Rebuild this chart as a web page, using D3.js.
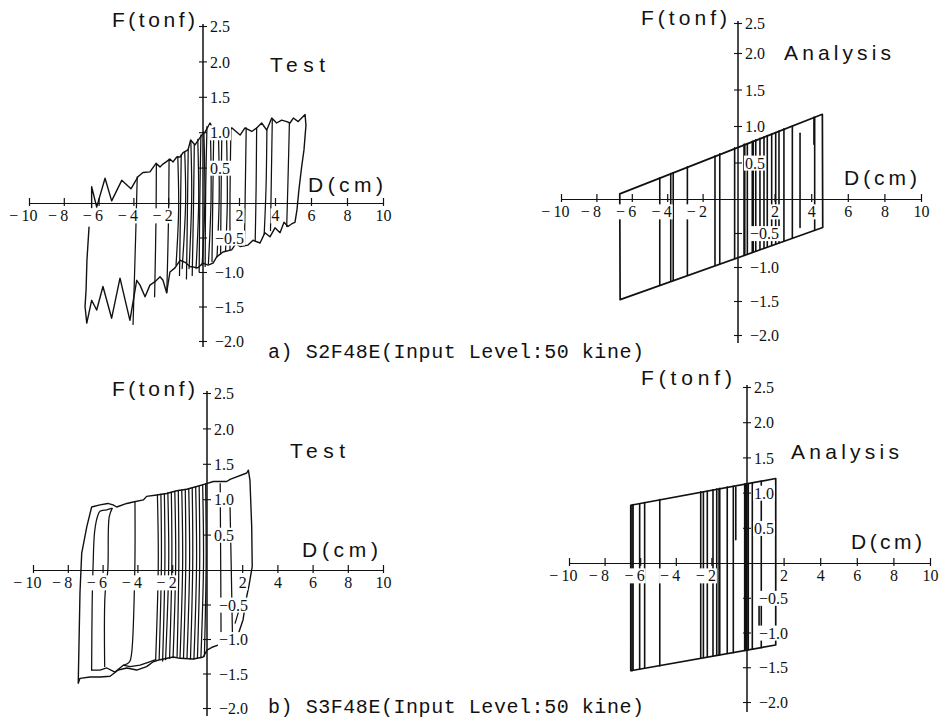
<!DOCTYPE html>
<html><head><meta charset="utf-8">
<script src="https://cdn.jsdelivr.net/npm/d3@7"></script>
<style>body{margin:0;background:#fff}svg{display:block}</style>
</head><body>
<svg id="c" width="948" height="721"></svg>
<script>
// ---------------- data ----------------
const xTickValues = [-10,-8,-6,-4,-2,2,4,6,8,10];
const yTickValues = [2.5,2.0,1.5,1.0,0.5,-0.5,-1.0,-1.5,-2.0];
const captions = ["a) S2F48E(Input Level:50 kine)", "b) S3F48E(Input Level:50 kine)"];
const panelNames = ["Test","Analysis","Test","Analysis"];
const yTitle = "F(tonf)";
const xTitle = "D(cm)";

// a) S2F48E  Test : envelope trace [D (cm), F (tonf)]
const testA_outline = [[-6.40,-0.07],[-6.40,0.23],[-6.11,-0.06],[-5.63,0.35],[-5.25,0.03],[-4.67,0.32],[-4.14,0.20],[-3.74,0.37],[-3.45,0.43],[-3.05,0.44],[-2.70,0.56],[-2.47,0.51],[-2.30,0.55],[-1.90,0.62],[-1.72,0.58],[-1.51,0.65],[-1.32,0.65],[-1.15,0.71],[-0.86,0.75],[-0.71,0.89],[-0.46,0.82],[-0.07,0.96],[0.11,1.00],[0.39,1.13],[0.62,1.02],[0.94,1.06],[1.25,1.00],[1.61,1.06],[2.06,0.96],[2.33,1.06],[2.71,1.01],[2.98,1.06],[3.26,1.13],[3.54,1.03],[3.82,1.20],[4.09,1.13],[4.37,1.17],[4.65,1.15],[4.83,1.13],[5.02,1.20],[5.29,1.15],[5.67,1.25],[5.72,1.10],[5.61,0.75],[5.48,0.51],[5.33,0.19],[5.22,-0.10],[5.11,-0.28],[4.94,-0.30],[4.72,-0.34],[4.50,-0.28],[4.28,-0.43],[4.00,-0.36],[3.72,-0.49],[3.44,-0.43],[3.17,-0.58],[2.78,-0.54],[2.50,-0.61],[2.06,-0.63],[1.83,-0.59],[1.59,-0.68],[1.11,-0.71],[0.76,-0.78],[0.56,-0.87],[0.28,-0.90],[0.00,-0.87],[-0.29,-0.94],[-0.75,-0.92],[-1.03,-0.86],[-1.32,-0.83],[-1.61,-0.94],[-1.90,-1.00],[-2.09,-1.30],[-2.30,-1.12],[-2.47,-1.07],[-2.76,-1.14],[-3.05,-1.19],[-3.33,-1.36],[-3.62,-1.19],[-3.81,-1.12],[-4.20,-1.70],[-4.77,-1.09],[-5.25,-1.67],[-5.75,-1.21],[-6.11,-1.55],[-6.40,-1.41],[-6.68,-1.74],[-6.78,-1.50],[-6.72,-1.26],[-6.67,-0.83],[-6.55,-0.35]];
// a) Test : loading / unloading branches
const testA_branches = [
 [[-3.78,0.37],[-3.85,-0.30],[-4.02,-1.76]],
 [[-2.68,0.56],[-2.70,-0.20],[-2.78,-1.36]],
 [[-1.95,0.62],[-1.98,-0.20],[-2.08,-1.30]],
 [[-1.45,0.66],[-1.40,-0.10],[-1.55,-0.90]],
 [[-1.25,0.68],[-1.30,-0.20],[-1.35,-1.05]],
 [[-1.05,0.72],[-1.00,0.00],[-1.20,-0.95]],
 [[-0.85,0.76],[-0.90,-0.20],[-0.95,-1.10]],
 [[-0.70,0.88],[-0.65,0.10],[-0.80,-0.95]],
 [[-0.50,0.82],[-0.55,-0.10],[-0.62,-1.05]],
 [[-0.30,0.90],[-0.25,0.00],[-0.40,-0.95]],
 [[-0.12,0.96],[-0.18,0.10],[-0.22,-1.00]],
 [[0.05,1.00],[0.10,0.00],[-0.05,-0.90]],
 [[0.22,1.08],[0.15,0.20],[0.12,-0.92]],
 [[0.40,1.12],[0.45,0.10],[0.30,-0.88]],
 [[0.60,1.08],[0.55,0.20],[0.50,-0.85]],
 [[0.85,1.06],[0.90,0.10],[0.78,-0.78]],
 [[1.05,1.06],[1.00,0.00],[0.98,-0.74]],
 [[1.30,1.06],[1.35,0.00],[1.25,-0.70]],
 [[1.55,1.06],[1.50,0.10],[1.50,-0.68]],
 [[2.40,1.06],[2.35,0.20],[2.30,-0.62]],
 [[2.98,1.06],[2.95,0.20],[2.90,-0.55]],
 [[3.55,1.03],[3.50,0.20],[3.40,-0.45]],
 [[3.85,1.18],[3.80,0.40],[3.75,-0.40]],
 [[4.80,1.13],[4.72,0.30],[4.65,-0.34]]
];
// a) Analysis : outline and reversal lines [D, Ftop, Fbottom]
const anaA_outline = [[-6.68,0.07],[4.61,1.16],[4.63,-0.42],[-6.66,-1.48],[-6.68,0.07]];
const anaA_verticals = [[-4.42,0.29,-1.27],[-3.80,0.35,-1.21],[-3.66,0.36,-1.20],[-2.86,0.44,-1.12],[-1.30,0.59,-0.97],[-1.03,0.62,-0.95],[-0.19,0.70,-0.87],[0.33,0.75,-0.82],[0.37,0.75,-0.82],[0.51,0.76,-0.80],[0.78,0.79,-0.78],[0.83,0.79,-0.77],[0.97,0.81,-0.76],[1.20,0.83,-0.74],[1.42,0.85,-0.72],[1.60,0.87,-0.70],[1.84,0.89,-0.68],[2.06,0.91,-0.66],[2.24,0.93,-0.64],[2.51,0.96,-0.62],[2.97,1.00,-0.57],[3.39,0.90,-0.42],[4.19,1.12,-0.46],[4.15,1.12,0.75]];

// b) S3F48E  Test
const testB_outline = [[-7.40,-1.64],[-7.30,-0.33],[-7.20,0.24],[-6.91,0.61],[-6.63,0.89],[-6.15,0.92],[-5.70,0.94],[-5.40,0.92],[-5.19,0.89],[-4.61,0.94],[-4.24,0.96],[-3.66,0.99],[-3.47,1.04],[-2.89,1.06],[-2.32,1.08],[-1.74,1.12],[-1.17,1.14],[-0.59,1.18],[-0.02,1.22],[0.36,1.25],[1.12,1.25],[1.31,1.28],[2.26,1.37],[2.35,1.41],[2.44,1.27],[2.54,0.61],[2.57,0.05],[2.39,-0.22],[2.22,-0.43],[2.05,-0.72],[1.75,-0.95],[1.48,-1.06],[1.02,-1.10],[0.63,-1.09],[0.28,-1.12],[0.00,-1.16],[-0.21,-1.26],[-0.79,-1.29],[-1.55,-1.28],[-1.94,-1.26],[-2.70,-1.30],[-3.09,-1.33],[-3.47,-1.40],[-4.04,-1.45],[-4.61,-1.42],[-5.10,-1.45],[-5.57,-1.54],[-6.15,-1.55],[-6.72,-1.55],[-7.30,-1.57],[-7.40,-1.64]];
const testB_inner = [[-6.63,-1.45],[-6.15,-1.45],[-5.76,-1.42],[-5.29,-1.48],[-4.81,-1.38],[-4.43,-1.40],[-3.85,-1.38],[-3.30,-1.33],[-2.95,-1.30]];
const testB_branches = [
 [[-6.63,-1.45],[-6.60,-0.50],[-6.55,0.03],[-6.45,0.56],[-6.26,0.78],[-6.15,0.83],[-5.76,0.85],[-5.47,0.87]],
 [[-5.45,0.87],[-5.62,0.75],[-5.70,0.00],[-5.86,-0.36],[-5.88,-1.40]],
 [[-4.14,0.96],[-4.15,0.00],[-4.33,-1.20],[-4.45,-1.33],[-4.80,-1.38]],
 [[-2.85,1.06],[-2.80,0.10],[-2.95,-1.30]],
 [[-2.65,1.07],[-2.62,0.10],[-2.75,-1.30]],
 [[-2.45,1.08],[-2.42,0.10],[-2.55,-1.32]],
 [[-2.25,1.09],[-2.20,0.10],[-2.38,-1.30]],
 [[-2.05,1.10],[-2.02,0.10],[-2.15,-1.28]],
 [[-1.85,1.11],[-1.80,0.10],[-1.95,-1.27]],
 [[-1.65,1.12],[-1.62,0.10],[-1.72,-1.26]],
 [[-1.45,1.13],[-1.40,0.10],[-1.55,-1.27]],
 [[-1.25,1.14],[-1.22,0.10],[-1.35,-1.28]],
 [[-1.05,1.15],[-1.00,0.10],[-1.15,-1.28]],
 [[-0.85,1.16],[-0.82,0.10],[-0.95,-1.29]],
 [[-0.65,1.17],[-0.60,0.10],[-0.75,-1.29]],
 [[-0.45,1.18],[-0.42,0.10],[-0.55,-1.28]],
 [[-0.25,1.20],[-0.20,0.10],[-0.35,-1.27]],
 [[-0.08,1.22],[-0.05,0.10],[-0.15,-1.25]],
 [[0.75,1.22],[0.78,0.00],[0.80,-1.05]],
 [[1.31,0.89],[1.38,0.00],[1.45,-1.00]],
 [[1.88,-0.53],[1.60,-0.77]]
];
// b) Analysis
const anaB_outline = [[-6.53,0.82],[1.57,1.20],[1.57,-1.18],[-6.53,-1.55],[-6.53,0.82]];
const anaB_verticals = [[-6.46,0.82,-1.55],[-6.40,0.83,-1.54],[-6.03,0.84,-1.53],[-5.75,0.86,-1.51],[-4.90,0.90,-1.48],[-2.60,1.01,-1.37],[-2.45,1.01,-1.36],[-2.23,1.02,-1.35],[-1.91,1.04,-1.34],[-1.70,1.05,-1.33],[-1.57,1.05,-1.32],[-1.53,1.06,-1.32],[-1.11,1.08,-1.30],[-0.77,1.09,-1.29],[-0.63,1.08,0.33],[-0.13,1.12,-1.26],[-0.07,1.12,-1.26],[-0.02,1.13,-1.25],[0.07,1.13,-1.25],[0.29,1.14,-1.24],[0.66,-0.44,-0.96],[0.78,1.16,-1.22]];

// ---------------- layout ----------------
const panels = [
 {kind:"test", outline:testA_outline, extra:null, branches:testA_branches,
  xr:[29,203,383], yd:[-2,0,2.5], yr:[341,203,26], yTop:24, yBot:347,
  f:[112,195,27], t:[270,325,72], d:[308,383,192]},
 {kind:"ana", outline:anaA_outline, verticals:anaA_verticals,
  xr:[561,738,921], yd:[-2,0,2,2.5], yr:[335,199,53,23], yTop:21, yBot:343,
  f:[641,727,25], t:[784,891,60], d:[844,917,185]},
 {kind:"test", outline:testB_outline, extra:testB_inner, branches:testB_branches,
  xr:[33,207,383], yd:[-2,0,2.5], yr:[708,570,393], yTop:391, yBot:716,
  f:[112,195,396], t:[290,345,458], d:[302,378,557]},
 {kind:"ana", outline:anaB_outline, verticals:anaB_verticals,
  xr:[569,747,930], yd:[-2,0,2.5], yr:[702,563,387], yTop:385, yBot:712,
  f:[641,732,385], t:[791,899,459], d:[851,922,549]}
];

const svg = d3.select("#c");
svg.append("rect").attr("width",948).attr("height",721).attr("fill","#fff");
const INK = "#111";
const serif = "'Liberation Serif','Times New Roman',serif";
const sans = "'Liberation Sans',Arial,Helvetica,sans-serif";
const mono = "'Liberation Mono','Courier New',monospace";

function fmtX(v){ return v < 0 ? "\u2212\u2009" + Math.abs(v) : String(v); }
function fmtY(v){ return (v < 0 ? "\u2212" : "") + Math.abs(v).toFixed(1); }

panels.forEach((p, i) => {
  const x = d3.scaleLinear().domain([-10,0,10]).range(p.xr);
  const y = d3.scaleLinear().domain(p.yd).range(p.yr);
  const g = svg.append("g");
  const x0 = x(0), y0 = y(0);

  // ---- data marks ----
  const dg = g.append("g").attr("fill","none").attr("stroke",INK).attr("stroke-linejoin","round").attr("stroke-linecap","round");
  if (p.kind === "test") {
    const lineT = d3.line().x(d => x(d[0])).y(d => y(d[1]));
    const lineC = d3.line().x(d => x(d[0])).y(d => y(d[1])).curve(d3.curveCatmullRom.alpha(0.5));
    dg.append("path").attr("d", lineT(p.outline)).attr("stroke-width",1.4);
    if (p.extra) dg.append("path").attr("d", lineT(p.extra)).attr("stroke-width",1.3);
    dg.selectAll("path.br").data(p.branches).join("path").attr("class","br")
      .attr("d", d => lineC(d)).attr("stroke-width",1.25);
  } else {
    const lineT = d3.line().x(d => x(d[0])).y(d => y(d[1]));
    dg.append("path").attr("d", lineT(p.outline)).attr("stroke-width",1.7);
    dg.selectAll("line.v").data(p.verticals).join("line").attr("class","v")
      .attr("x1", d => x(d[0])).attr("x2", d => x(d[0]))
      .attr("y1", d => y(d[1])).attr("y2", d => y(d[2]))
      .attr("stroke-width",1.6);
  }

  // ---- x axis ----
  const ax = g.append("g").attr("transform",`translate(0,${y0})`)
    .call(d3.axisBottom(x).tickValues(xTickValues).tickFormat(fmtX).tickSizeOuter(0));
  ax.select(".domain").attr("stroke",INK).attr("stroke-width",1);
  ax.selectAll(".tick line").attr("y1",-5).attr("y2",3).attr("stroke",INK).attr("stroke-width",1.2);
  ax.selectAll(".tick text").attr("fill",INK).attr("font-family",serif).attr("font-size",16)
    .attr("y",7).attr("dy","0.71em")
    .attr("text-anchor", d => d < 0 ? "end" : "middle")
    .attr("x", d => d < 0 ? String(Math.abs(d)).length * 4 : 0);

  // ---- y axis ----
  g.append("line").attr("x1",x0).attr("x2",x0).attr("y1",p.yTop).attr("y2",p.yBot)
    .attr("stroke",INK).attr("stroke-width",1.5);
  const ay = g.append("g").attr("transform",`translate(${x0},0)`)
    .call(d3.axisRight(y).tickValues(yTickValues).tickFormat(fmtY).tickSizeOuter(0));
  ay.select(".domain").remove();
  ay.selectAll(".tick line").attr("x1",-4).attr("x2",4).attr("stroke",INK).attr("stroke-width",1.1);
  ay.selectAll(".tick text").attr("fill",INK).attr("font-family",serif).attr("font-size",16)
    .attr("text-anchor","start").attr("x", d => d < 0 ? 12 : 7).attr("dy","0.35em");

  // white backing behind tick labels (the printed labels interrupt the curves)
  [ax, ay].forEach(a => {
    a.selectAll(".tick").each(function(){
      const t = d3.select(this).select("text");
      const b = t.node().getBBox();
      d3.select(this).insert("rect","text")
        .attr("x", b.x - 1).attr("y", b.y + 1).attr("width", b.width + 2).attr("height", b.height - 2)
        .attr("fill","#fff");
    });
  });

  // ---- titles ----
  const ttl = (txt, spec, size) => g.append("text")
    .attr("x", spec[0]).attr("y", spec[2]).attr("font-family", sans).attr("font-size", size)
    .attr("fill", INK).attr("textLength", spec[1]-spec[0]).attr("lengthAdjust","spacing").text(txt);
  ttl(yTitle, p.f, 21);
  ttl(panelNames[i], p.t, 21);
  ttl(xTitle, p.d, 21);
});

// captions
const capPos = [[268,358],[268,713]];
captions.forEach((c,i) => {
  svg.append("text").attr("x",capPos[i][0]).attr("y",capPos[i][1])
    .attr("font-family",mono).attr("font-size",20).attr("fill",INK)
    .attr("textLength",376).attr("lengthAdjust","spacing")
    .attr("xml:space","preserve").text(c);
});
</script>
</body></html>
